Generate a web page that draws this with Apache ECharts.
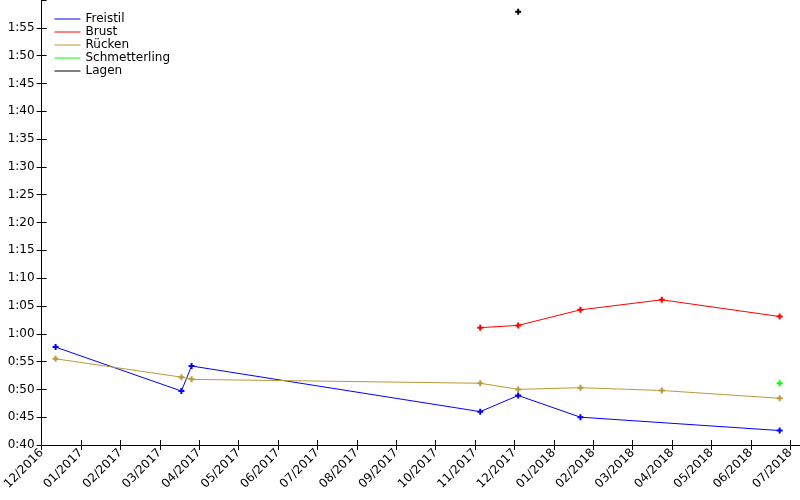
<!DOCTYPE html>
<html>
<head>
<meta charset="utf-8">
<script src="https://cdn.jsdelivr.net/npm/echarts@6/dist/echarts.min.js"></script>
<style>
  html, body { margin: 0; padding: 0; background: #fff; }
  #chart { width: 800px; height: 500px; }
</style>
</head>
<body>
<div id="chart"></div>
<script>
// Zeiten in Sekunden, Datum als Tag des Wettkampfs
var freistilDates = ['2016-12-12', '2017-03-18', '2017-03-26', '2017-11-05', '2017-12-04', '2018-01-22', '2018-06-23'];
var freistilTimes = [57.6, 49.7, 54.2, 46.0, 48.9, 45.0, 42.6];

var brustDates = ['2017-11-05', '2017-12-04', '2018-01-22', '2018-03-24', '2018-06-23'];
var brustTimes = [61.1, 61.5, 64.3, 66.1, 63.1];

var rueckenDates = ['2016-12-12', '2017-03-18', '2017-03-26', '2017-11-05', '2017-12-04', '2018-01-22', '2018-03-24', '2018-06-23'];
var rueckenTimes = [55.5, 52.2, 51.8, 51.1, 50.0, 50.3, 49.8, 48.4];

var schmetterlingDates = ['2018-06-23'];
var schmetterlingTimes = [51.1];

var lagenDates = ['2017-12-04'];
var lagenTimes = [117.9];

var seriesNames = ['Freistil', 'Brust', 'Rücken', 'Schmetterling', 'Lagen'];
var seriesColors = ['#0000ff', '#ff0000', '#b89a3a', '#00ff00', '#000000'];

// Monat 0 = 12/2016
function monthIndex(s) {
  var p = s.split('-');
  var y = +p[0], m = +p[1], d = +p[2];
  var days = new Date(y, m, 0).getDate();
  return (y - 2016) * 12 + (m - 1) - 11 + (d - 1) / days;
}

function monthLabel(v) {
  var n = Math.round(v) + 11;
  var m = n % 12 + 1;
  var y = 2016 + Math.floor(n / 12);
  return (m < 10 ? '0' + m : '' + m) + '/' + y;
}

function timeLabel(v) {
  var min = Math.floor(v / 60);
  var sec = Math.round(v - min * 60);
  return min + ':' + (sec < 10 ? '0' + sec : sec);
}

function pairs(dates, times) {
  var out = [];
  for (var i = 0; i < dates.length; i++) {
    out.push([monthIndex(dates[i]), times[i]]);
  }
  return out;
}

var allData = [
  pairs(freistilDates, freistilTimes),
  pairs(brustDates, brustTimes),
  pairs(rueckenDates, rueckenTimes),
  pairs(schmetterlingDates, schmetterlingTimes),
  pairs(lagenDates, lagenTimes)
];

var plus = 'path://M2,0H4V2H6V4H4V6H2V4H0V2H2Z';

var series = [];
for (var i = 0; i < seriesNames.length; i++) {
  series.push({
    name: seriesNames[i],
    type: 'line',
    xAxisIndex: 0,
    yAxisIndex: 0,
    data: allData[i],
    symbol: plus,
    symbolSize: 6,
    showSymbol: true,
    color: seriesColors[i],
    lineStyle: { width: 1, color: seriesColors[i] },
    itemStyle: { color: seriesColors[i] }
  });
}

var font = 'DejaVu Sans';
var axisBase = {
  type: 'value',
  axisLine: { show: true, lineStyle: { color: '#000', width: 1 } },
  splitLine: { show: false }
};

var myChart = echarts.init(document.getElementById('chart'));
var option = {
  animation: false,
  backgroundColor: '#fff',
  textStyle: { fontFamily: font },
  grid: { left: 40, right: 0, top: -2, bottom: 55 },
  legend: {
    orient: 'vertical',
    left: 54,
    top: 13,
    itemWidth: 26,
    itemHeight: 12,
    itemGap: 1,
    padding: 0,
    data: seriesNames,
    itemStyle: { opacity: 0 },
    lineStyle: { width: 1 },
    textStyle: { fontFamily: font, fontSize: 12, color: '#000' }
  },
  xAxis: [
    Object.assign({}, axisBase, {
      min: 0,
      max: 19.25,
      interval: 1,
      position: 'bottom',
      axisTick: { show: true, inside: false, length: 5, lineStyle: { color: '#000' } },
      axisLabel: {
        rotate: 45,
        margin: 6,
        fontFamily: font,
        fontSize: 12,
        color: '#000',
        showMaxLabel: false,
        formatter: monthLabel
      }
    }),
    Object.assign({}, axisBase, {
      min: 0,
      max: 19.25,
      interval: 1,
      position: 'bottom',
      axisLine: { show: false },
      axisTick: { show: true, inside: true, length: 5, lineStyle: { color: '#000' } },
      axisLabel: { show: false }
    })
  ],
  yAxis: [
    Object.assign({}, axisBase, {
      min: 40,
      max: 120,
      interval: 5,
      position: 'left',
      axisTick: { show: true, inside: false, length: 5, lineStyle: { color: '#000' } },
      axisLabel: {
        margin: 7,
        fontFamily: font,
        fontSize: 12,
        color: '#000',
        showMaxLabel: false,
        formatter: timeLabel
      }
    }),
    Object.assign({}, axisBase, {
      min: 40,
      max: 120,
      interval: 5,
      position: 'left',
      axisLine: { show: false },
      axisTick: { show: true, inside: true, length: 5, lineStyle: { color: '#000' } },
      axisLabel: { show: false }
    })
  ],
  series: series
};
myChart.setOption(option);
</script>
</body>
</html>
